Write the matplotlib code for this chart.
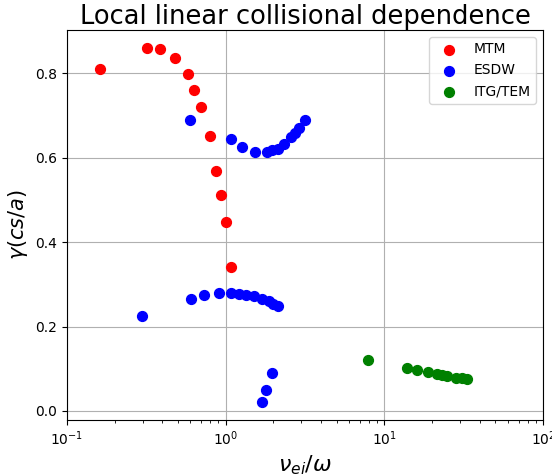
import matplotlib
matplotlib.use('Agg')
from matplotlib import pyplot as plt

# MTM branch
mtm_nu = [0.163, 0.321, 0.384, 0.479, 0.576, 0.635, 0.703, 0.793, 0.874,
          0.930, 1.0, 1.087]
mtm_gamma = [0.809, 0.860, 0.858, 0.835, 0.797, 0.760, 0.719, 0.651, 0.569,
             0.511, 0.448, 0.340]

# ESDW branch (upper, lower and bottom groups)
esdw_nu = [0.593, 1.087, 1.27, 1.54, 1.81, 1.96, 2.14, 2.34, 2.57, 2.73,
           2.90, 3.16,
           0.297, 0.602, 0.727, 0.908, 1.087, 1.21, 1.34, 1.51, 1.70, 1.87,
           1.99, 2.13,
           1.96, 1.80, 1.69]
esdw_gamma = [0.690, 0.643, 0.626, 0.613, 0.613, 0.617, 0.621, 0.633, 0.649,
              0.659, 0.671, 0.690,
              0.226, 0.265, 0.274, 0.280, 0.280, 0.278, 0.275, 0.272, 0.266,
              0.260, 0.254, 0.248,
              0.090, 0.049, 0.021]

# ITG/TEM branch
itg_nu = [7.93, 13.9, 16.0, 18.8, 21.5, 23.1, 24.8, 28.4, 30.6, 32.9]
itg_gamma = [0.121, 0.101, 0.097, 0.093, 0.087, 0.086, 0.082, 0.079, 0.078,
             0.075]


def main():
    fig, ax = plt.subplots(figsize=(5.52, 4.76), dpi=100)
    fig.subplots_adjust(left=0.121, right=0.984, top=0.937, bottom=0.118)

    ax.scatter(mtm_nu, mtm_gamma, color='red', s=50, label='MTM', zorder=3)
    ax.scatter(esdw_nu, esdw_gamma, color='blue', s=50, label='ESDW', zorder=3)
    ax.scatter(itg_nu, itg_gamma, color='green', s=50, label='ITG/TEM',
               zorder=3)

    ax.set_xscale('log')
    ax.set_xlim(0.1, 100)
    ax.grid(True)
    ax.set_title('Local linear collisional dependence', fontsize=18.5, pad=4)
    ax.set_xlabel(r'$\nu_{ei}/\omega$', fontsize=16)
    ax.set_ylabel(r'$\gamma(cs/a)$', fontsize=15)
    ax.legend(loc='upper right')

    fig.savefig('out.png', dpi=100)


if __name__ == '__main__':
    main()
